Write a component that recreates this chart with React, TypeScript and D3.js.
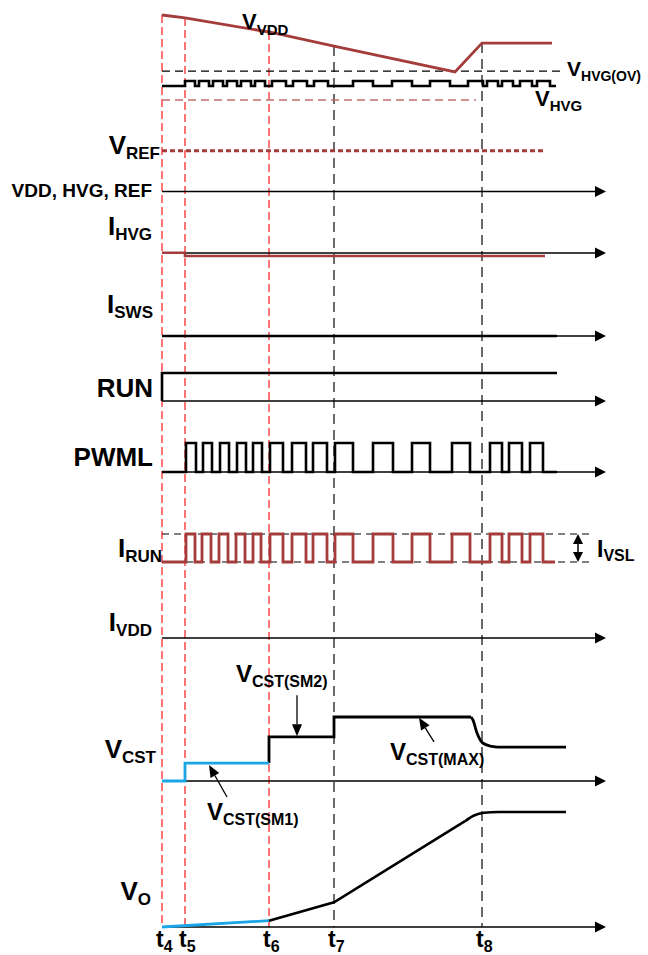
import React from "react";
import * as d3 from "d3";

// ---------------- data ----------------
const timeSubs = ["4", "5", "6", "7", "8"];
const timeValues = [0, 23, 107, 172, 320];
const axisEndTime = 444;

// top panel (V_VDD, V_HVG(OV), V_HVG), units 0..100
const vddTimes = [0, 23, 107, 172, 293, 320, 390];
const vddValues = [100, 96.5, 80, 63.5, 33, 67, 67];
const hvgOvLevel = 34;
const hvgOvEnd = 401;
const hvgLow = 16.5;
const hvgHigh = 22.4;
const hvgEnd = 394;
const hvgPulses = [
  [23, 33], [37, 47], [51, 61], [65, 75], [79, 89], [93, 103],
  [110, 124], [131, 145], [152, 166],
  [191, 211], [230, 250], [268, 288], [306, 321],
  [325, 336], [340, 351], [358, 370], [375, 388],
];
const hvgRefLevel = 0;
const hvgRefEnd = 314;

// V_REF
const vrefEnd = 381;

// I_HVG
const ihvgTimes = [0, 23, 23, 383];
const ihvgValues = [0.1, 0.1, -1, -1];

// I_SWS, RUN
const iswsEnd = 395;
const runTimes = [0, 0, 395];
const runValues = [0, 1, 1];

// PWML
const pwmlPulses = [
  [24, 34], [41, 50], [58, 67], [75, 84], [91, 100],
  [108, 121], [130, 144], [151, 165],
  [173, 191], [211, 231], [250, 268], [290, 308],
  [328, 340], [347, 360], [368, 381],
];
const pwmlEnd = 395;

// I_RUN
const irunPulses = [
  [24, 33], [40, 49], [57, 66], [74, 83], [91, 99],
  [108, 121], [130, 144], [151, 165],
  [173, 191], [211, 231], [250, 268], [290, 308],
  [328, 340], [347, 360], [368, 381],
];
const irunEnd = 393;
const ivslDashEnd = 428;
const ivslTime = 416;

// V_CST
const vcstBlueTimes = [0, 23, 23, 107];
const vcstBlueValues = [0, 0, 28, 28];
const vcstTimes = [107, 107, 172, 172, 309];
const vcstValues = [28, 69, 69, 100, 100];
const vcstDecayTimes = [309, 311, 315, 321, 330, 336, 404];
const vcstDecayValues = [100, 95, 75, 59, 54, 53, 53];

// V_O
const voBlueTimes = [0, 107];
const voBlueValues = [0, 5.5];
const voRampTimes = [107, 172, 303];
const voRampValues = [5.5, 21.5, 92];
const voSettleTimes = [303, 312, 322, 336, 404];
const voSettleValues = [92, 97, 99.4, 100, 100];

// annotation arrows for V_CST (time, value) from -> to
const noteSM2 = [[135, 134], [135, 70]];
const noteMAX = [[272, 61], [257, 99]];
const noteSM1 = [[65, -25], [47, 25]];

// ---------------- layout ----------------
const W = 648;
const H = 955;
const FONT = "'Liberation Sans', Arial, Helvetica, sans-serif";
const BROWN = "#a53c3c";
const RED = "#ff1a1a";
const BLUE = "#1aa6e6";

const x = d3.scaleLinear().domain([0, axisEndTime]).range([162, 606]);
const yTop = d3.scaleLinear().domain([0, 100]).range([100, 15]);
const yVref = 150.7;
const yVddAxis = 191.5;
const yIhvg = d3.scaleLinear().domain([0, 1]).range([253, 250]);
const yIsws = 336;
const yRun = d3.scaleLinear().domain([0, 1]).range([401, 373]);
const yPwml = d3.scaleLinear().domain([0, 1]).range([472, 443]);
const yIrun = d3.scaleLinear().domain([0, 1]).range([562, 534]);
const yIvdd = 638;
const yVcst = d3.scaleLinear().domain([0, 100]).range([781, 717]);
const yVo = d3.scaleLinear().domain([0, 100]).range([927, 812]);

type P = [number, number];

function zip(ts: number[], vs: number[]): P[] {
  return ts.map((t, i) => [t, vs[i]] as P);
}

function pulsePts(pulses: number[][], end: number): P[] {
  const pts: P[] = [[0, 0]];
  pulses.forEach(([a, b]) => {
    pts.push([a, 0], [a, 1], [b, 1], [b, 0]);
  });
  pts.push([end, 0]);
  return pts;
}

function linePath(pts: P[], ys: (v: number) => number, curve: any = d3.curveLinear) {
  return (
    d3
      .line<P>()
      .x((d) => x(d[0]))
      .y((d) => ys(d[1]))
      .curve(curve)(pts) || ""
  );
}

const Axis = ({ y }: { y: number }) => (
  <g>
    <line x1={x(0)} x2={x(axisEndTime) - 8} y1={y} y2={y} stroke="#000" strokeWidth={1.4} />
    <polygon
      points={`${x(axisEndTime)},${y} ${x(axisEndTime) - 11},${y - 5.5} ${x(axisEndTime) - 11},${y + 5.5}`}
      fill="#000"
    />
  </g>
);

const Lbl = ({
  px,
  py,
  main,
  sub,
  fs = 26,
  sfs = 17,
  dy = 5,
  anchor = "end",
}: {
  px: number;
  py: number;
  main: string;
  sub?: string;
  fs?: number;
  sfs?: number;
  dy?: number;
  anchor?: string;
}) => (
  <text x={px} y={py} fontFamily={FONT} fontWeight="bold" fontSize={fs} textAnchor={anchor as any} fill="#000">
    <tspan>{main}</tspan>
    {sub ? (
      <tspan dy={dy} fontSize={sfs}>
        {sub}
      </tspan>
    ) : null}
  </text>
);

function Arrow({ from, to, ys }: { from: number[]; to: number[]; ys: (v: number) => number }) {
  const x1 = x(from[0]);
  const y1 = ys(from[1]);
  const x2 = x(to[0]);
  const y2 = ys(to[1]);
  const ang = Math.atan2(y2 - y1, x2 - x1);
  const L = 12;
  const hw = 5;
  const bx = x2 - L * Math.cos(ang);
  const by = y2 - L * Math.sin(ang);
  const px = -Math.sin(ang) * hw;
  const py = Math.cos(ang) * hw;
  return (
    <g>
      <line x1={x1} y1={y1} x2={bx} y2={by} stroke="#000" strokeWidth={1.3} />
      <polygon points={`${x2},${y2} ${bx + px},${by + py} ${bx - px},${by - py}`} fill="#000" />
    </g>
  );
}

export default function App() {
  const vddInterp = d3.scaleLinear().domain(vddTimes).range(vddValues);
  const hvgScale = (v: number) => yTop(hvgLow + v * (hvgHigh - hvgLow));

  return (
    <svg
      width={W}
      height={H}
      viewBox={`0 0 ${W} ${H}`}
      style={{ position: "absolute", left: 0, top: 0, background: "#fff", display: "block" }}
    >
      <rect x={0} y={0} width={W} height={H} fill="#fff" />

      {/* vertical time markers */}
      {timeValues.map((t, i) => (
        <line
          key={"tv" + i}
          x1={x(t)}
          x2={x(t)}
          y1={yTop(vddInterp(t))}
          y2={yVo(0)}
          stroke={i < 3 ? RED : "#3a3a3a"}
          strokeWidth={i < 3 ? 1.2 : 1.5}
          strokeDasharray={i < 3 ? "8,4" : "10,6"}
        />
      ))}

      {/* top panel */}
      <line
        x1={x(0)}
        x2={x(hvgOvEnd)}
        y1={yTop(hvgOvLevel)}
        y2={yTop(hvgOvLevel)}
        stroke="#000"
        strokeWidth={1.3}
        strokeDasharray="8,5"
      />
      <line
        x1={x(0)}
        x2={x(hvgRefEnd)}
        y1={yTop(hvgRefLevel)}
        y2={yTop(hvgRefLevel)}
        stroke="#c07070"
        strokeWidth={1.3}
        strokeDasharray="8,5"
      />
      <path d={linePath(zip(vddTimes, vddValues), yTop)} fill="none" stroke={BROWN} strokeWidth={2.8} />
      <path d={linePath(pulsePts(hvgPulses, hvgEnd), hvgScale)} fill="none" stroke="#000" strokeWidth={2.6} />

      <Lbl px={242} py={29} main="V" sub="VDD" fs={22} sfs={15} anchor="start" dy={6} />
      <Lbl px={567} py={76} main="V" sub="HVG(OV)" fs={21} sfs={14} anchor="start" dy={5} />
      <Lbl px={535} py={106} main="V" sub="HVG" fs={22} sfs={15} anchor="start" dy={5} />

      {/* V_REF */}
      <line
        x1={x(0)}
        x2={x(vrefEnd)}
        y1={yVref}
        y2={yVref}
        stroke={BROWN}
        strokeWidth={3}
        strokeDasharray="5,3"
      />
      <Lbl px={160} py={154} main="V" sub="REF" />

      {/* VDD, HVG, REF axis */}
      <Axis y={yVddAxis} />
      <text x={152} y={197} fontFamily={FONT} fontWeight="bold" fontSize={19} textAnchor="end">
        VDD, HVG, REF
      </text>

      {/* I_HVG */}
      <Axis y={yIhvg(0)} />
      <path d={linePath(zip(ihvgTimes, ihvgValues), yIhvg)} fill="none" stroke={BROWN} strokeWidth={2.6} />
      <Lbl px={152} py={235} main="I" sub="HVG" />

      {/* I_SWS */}
      <Axis y={yIsws} />
      <line x1={x(0)} x2={x(iswsEnd)} y1={yIsws} y2={yIsws} stroke="#000" strokeWidth={2.6} />
      <Lbl px={153} py={313} main="I" sub="SWS" />

      {/* RUN */}
      <Axis y={yRun(0)} />
      <path d={linePath(zip(runTimes, runValues), yRun)} fill="none" stroke="#000" strokeWidth={2.6} />
      <Lbl px={153} py={397} main="RUN" fs={26} />

      {/* PWML */}
      <Axis y={yPwml(0)} />
      <path d={linePath(pulsePts(pwmlPulses, pwmlEnd), yPwml)} fill="none" stroke="#000" strokeWidth={2.6} />
      <Lbl px={153} py={466} main="PWML" fs={26} />

      {/* I_RUN */}
      {[0, 1].map((lv) => (
        <line
          key={"ivsl" + lv}
          x1={x(0)}
          x2={x(ivslDashEnd)}
          y1={yIrun(lv)}
          y2={yIrun(lv)}
          stroke="#000"
          strokeWidth={1}
          strokeDasharray="7,5"
        />
      ))}
      <path d={linePath(pulsePts(irunPulses, irunEnd), yIrun)} fill="none" stroke={BROWN} strokeWidth={2.8} />
      <Lbl px={162} py={557} main="I" sub="RUN" />
      <g>
        <line
          x1={x(ivslTime)}
          x2={x(ivslTime)}
          y1={yIrun(1) + 8}
          y2={yIrun(0) - 8}
          stroke="#000"
          strokeWidth={1.5}
        />
        <polygon
          points={`${x(ivslTime)},${yIrun(1)} ${x(ivslTime) - 5},${yIrun(1) + 10} ${x(ivslTime) + 5},${yIrun(1) + 10}`}
          fill="#000"
        />
        <polygon
          points={`${x(ivslTime)},${yIrun(0)} ${x(ivslTime) - 5},${yIrun(0) - 10} ${x(ivslTime) + 5},${yIrun(0) - 10}`}
          fill="#000"
        />
      </g>
      <Lbl px={597} py={557} main="I" sub="VSL" fs={23} sfs={16} anchor="start" dy={4} />

      {/* I_VDD */}
      <Axis y={yIvdd} />
      <Lbl px={152} py={631} main="I" sub="VDD" />

      {/* V_CST */}
      <Axis y={yVcst(0)} />
      <path d={linePath(zip(vcstTimes, vcstValues), yVcst)} fill="none" stroke="#000" strokeWidth={2.8} />
      <path
        d={linePath(zip(vcstDecayTimes, vcstDecayValues), yVcst, d3.curveMonotoneX)}
        fill="none"
        stroke="#000"
        strokeWidth={2.8}
      />
      <path d={linePath(zip(vcstBlueTimes, vcstBlueValues), yVcst)} fill="none" stroke={BLUE} strokeWidth={2.8} />
      <Lbl px={156} py={758} main="V" sub="CST" />
      <Arrow from={noteSM2[0]} to={noteSM2[1]} ys={yVcst} />
      <Arrow from={noteMAX[0]} to={noteMAX[1]} ys={yVcst} />
      <Arrow from={noteSM1[0]} to={noteSM1[1]} ys={yVcst} />
      <Lbl px={236} py={682} main="V" sub="CST(SM2)" fs={24} sfs={16} anchor="start" dy={5} />
      <Lbl px={390} py={760} main="V" sub="CST(MAX)" fs={24} sfs={16} anchor="start" dy={5} />
      <Lbl px={207} py={820} main="V" sub="CST(SM1)" fs={24} sfs={16} anchor="start" dy={5} />

      {/* V_O */}
      <Axis y={yVo(0)} />
      <path d={linePath(zip(voRampTimes, voRampValues), yVo)} fill="none" stroke="#000" strokeWidth={2.6} />
      <path
        d={linePath(zip(voSettleTimes, voSettleValues), yVo, d3.curveMonotoneX)}
        fill="none"
        stroke="#000"
        strokeWidth={2.6}
      />
      <path d={linePath(zip(voBlueTimes, voBlueValues), yVo)} fill="none" stroke={BLUE} strokeWidth={2.8} />
      <Lbl px={151} py={900} main="V" sub="O" />

      {/* time labels */}
      {timeValues.map((t, i) => (
        <Lbl
          key={"tl" + i}
          px={x(t) - 6}
          py={947}
          main="t"
          sub={timeSubs[i]}
          fs={23}
          sfs={16}
          anchor="start"
          dy={5}
        />
      ))}
    </svg>
  );
}
